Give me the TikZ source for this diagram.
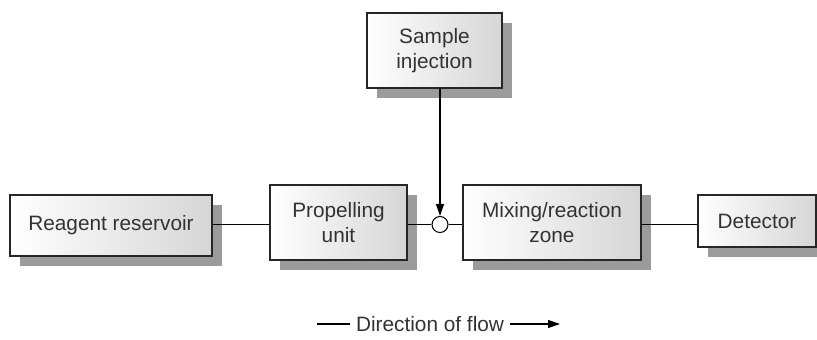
\documentclass[tikz,border=0pt]{standalone}
\usepackage{fontspec}
\setmainfont{Liberation Sans}
\usetikzlibrary{arrows.meta,shadows}
\definecolor{boxend}{HTML}{D6D6D6}
\definecolor{shadowgray}{HTML}{9B9B9B}
\definecolor{inkgray}{HTML}{333333}
\tikzset{
  unit/.style={draw=black!85,line width=0.9pt,left color=white,right color=boxend,
    drop shadow={shadow xshift=7.5pt,shadow yshift=-7.5pt,fill=shadowgray,opacity=1},
    align=center,inner sep=0pt,text=inkgray},
  pipe/.style={line width=0.8pt}
}

\begin{document}
\begin{tikzpicture}[x=0.75pt,y=-0.75pt,>={Triangle[length=9pt,width=6pt]},font=\fontsize{15.6}{18.7}\selectfont]
\useasboundingbox (0,0) rectangle (817,339);
% boxes
\node[unit,minimum width=151.5pt,minimum height=45.75pt] (res) at (111,225.5) {Reagent reservoir};
\node[unit,minimum width=102.75pt,minimum height=56.25pt] (prop) at (338.5,222.5) {Propelling\\unit};
\node[unit,minimum width=101.25pt,minimum height=56.25pt] (inj) at (434.5,50.5) {Sample\\injection};
\node[unit,minimum width=133.5pt,minimum height=56.25pt] (mix) at (552,222.5) {Mixing/reaction\\zone};
\node[unit,minimum width=88.5pt,minimum height=39pt] (det) at (757,221) {Detector};
\node[circle,draw,fill=white,line width=0.8pt,minimum size=12pt,inner sep=0pt] (junc) at (440,224.5) {};
% connections
\draw[pipe] (res.east |- junc) -- (prop.west |- junc);
\draw[pipe] (prop.east |- junc) -- (junc.west);
\draw[pipe] (junc.east) -- (mix.west |- junc);
\draw[pipe] (mix.east |- junc) -- (det.west |- junc);
\draw[pipe,->] (inj.south -| junc) -- (junc.north);
% flow legend
\node[text=inkgray,inner xsep=4.5pt] (flow) at (430,324) {Direction of flow};
\coordinate (flowtail) at (317,324);
\coordinate (flowhead) at (560,324);
\draw[pipe] (flowtail) -- (flow.west);
\draw[pipe,->] (flow.east) -- (flowhead);
\end{tikzpicture}
\end{document}
